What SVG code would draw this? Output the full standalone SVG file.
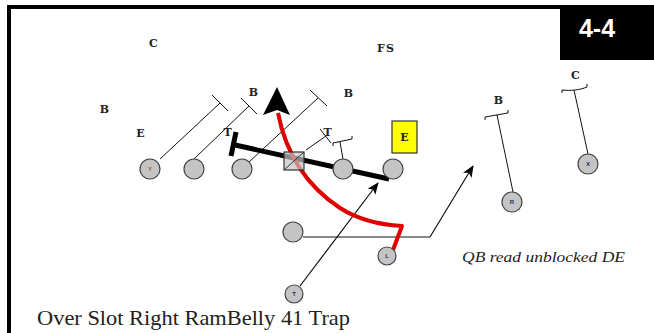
<svg xmlns="http://www.w3.org/2000/svg" width="654" height="333" viewBox="0 0 654 333">
<defs>
<style>
.lbl{font-family:"DejaVu Serif","Liberation Serif",serif;font-weight:bold;font-size:11px;letter-spacing:1px;fill:#222;text-anchor:middle}
.pl{fill:#c4c4c4;stroke:#444;stroke-width:1.2}
.tiny{font-family:"Liberation Sans",Arial,sans-serif;font-weight:bold;font-size:6px;text-anchor:middle}
.thin{fill:none;stroke:#111;stroke-width:1}
.blk{fill:none;stroke:#111;stroke-width:1.2}
</style>
<marker id="ah" viewBox="0 0 12 10" refX="11" refY="5" markerWidth="12" markerHeight="10" markerUnits="userSpaceOnUse" orient="auto">
<path d="M0,0 L12,5 L0,10 L3,5 Z" fill="#000"/>
</marker>
</defs>
<rect x="0" y="0" width="654" height="333" fill="#fff"/>
<g id="frame">
<rect x="7" y="5" width="647" height="4" fill="#000"/>
<rect x="7" y="5" width="4" height="328" fill="#000"/>
<rect x="560" y="5" width="94" height="55" fill="#000"/>
<text x="597" y="37" font-family="Liberation Sans,Arial,sans-serif" font-weight="bold" font-size="25" fill="#fff" text-anchor="middle">4-4</text>
</g>
<g id="defense-labels">
<text class="lbl" x="154" y="47">C</text>
<text class="lbl" x="386" y="52">FS</text>
<text class="lbl" x="105" y="113">B</text>
<text class="lbl" x="141" y="137">E</text>
<text class="lbl" x="254" y="96">B</text>
<text class="lbl" x="228" y="136">T</text>
<text class="lbl" x="349" y="97">B</text>
<text class="lbl" x="328" y="136">T</text>
<text class="lbl" x="499" y="104">B</text>
<text class="lbl" x="576" y="79">C</text>
</g>
<g id="de-box">
<rect x="392" y="121" width="25" height="32" fill="#ffff00" stroke="#333" stroke-width="1.2"/>
<text class="lbl" x="405" y="141">E</text>
</g>
<g id="connectors">
<path class="thin" d="M160,159 L220,103 M212,95 L228,111"/>
<path class="thin" d="M194,159 L249,106 M241,98 L257,114"/>
<path class="thin" d="M249,162 L318,98 M310,90 L327,106"/>
<path class="thin" d="M306,150 L326,136 M320,129 L331,143"/>
<path class="thin" d="M343,159 L340,142 M333,146 L333,143 L352,139 L352,136"/>
<path class="thin" d="M513,192 L497,115 M485,120 L485,117 L508,113 L508,110"/>
<path class="thin" d="M588,154 L574,90 M562,93 L562,90 C570,91 580,90 587,87 L587,84"/>
<path d="M235,145 L389,179" fill="none" stroke="#000" stroke-width="5"/>
<path d="M236,132 L231,156" fill="none" stroke="#000" stroke-width="5"/>
<path class="blk" d="M300,286 L378,183" marker-end="url(#ah)"/>
<path class="blk" d="M303,237 L430,237 L473,166" marker-end="url(#ah)"/>
<path d="M278,113 Q290,175 340,208 Q365,224 402,226 L393,250" fill="none" stroke="#e00000" stroke-width="4" stroke-linejoin="round"/>
<path d="M277,87 L290,115 L277,110 L263,115 Z" fill="#000"/>
</g>
<g id="center">
<rect x="284" y="152" width="20" height="18" fill="#c4c4c4" fill-opacity="0.7" stroke="#333" stroke-width="1.2"/>
<line x1="304" y1="152" x2="284" y2="170" stroke="#333" stroke-width="1"/>
</g>
<g id="y-end"><circle class="pl" cx="150" cy="169" r="10"/><text class="tiny" x="150" y="171" fill="#b05010">Y</text></g>
<g id="lt"><circle class="pl" cx="194" cy="169" r="10"/></g>
<g id="lg"><circle class="pl" cx="242" cy="169" r="10"/></g>
<g id="rg"><circle class="pl" cx="343" cy="169" r="10"/></g>
<g id="rt"><circle class="pl" cx="393" cy="169" r="10"/></g>
<g id="fb"><circle class="pl" cx="293" cy="232" r="10"/></g>
<g id="l-back"><circle class="pl" cx="387" cy="256" r="9"/><text class="tiny" x="387" y="258" fill="#1a3070">L</text></g>
<g id="t-back"><circle class="pl" cx="294" cy="294" r="9"/><text class="tiny" x="294" y="296" fill="#1a3070">T</text></g>
<g id="r-slot"><circle class="pl" cx="512" cy="202" r="10"/><text class="tiny" x="512" y="204" fill="#1a3070">R</text></g>
<g id="x-wr"><circle class="pl" cx="588" cy="164" r="10"/><text class="tiny" x="588" y="166" fill="#1a3070">X</text></g>
<g id="note">
<text x="462" y="262" font-family="Liberation Serif,Times New Roman,serif" font-style="italic" font-size="14" fill="#222" textLength="163" lengthAdjust="spacingAndGlyphs">QB read unblocked DE</text>
</g>
<g id="title">
<text x="37" y="325" font-family="Liberation Serif,Times New Roman,serif" font-size="22" fill="#222" textLength="313" lengthAdjust="spacingAndGlyphs">Over Slot Right RamBelly 41 Trap</text>
</g>
</svg>
